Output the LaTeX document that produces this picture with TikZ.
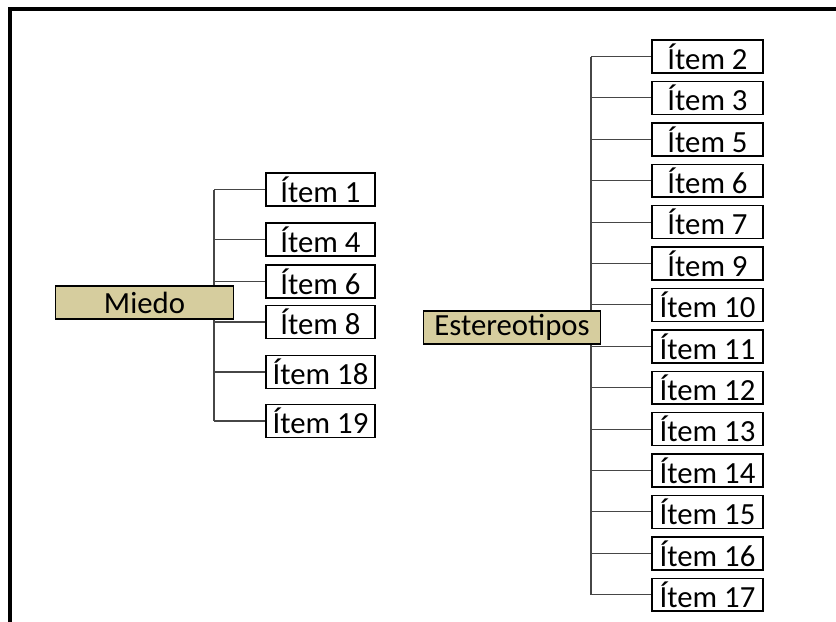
\documentclass[tikz,border=0pt]{standalone}
\usepackage{fontspec}
\setmainfont{Carlito}
\usetikzlibrary{calc}
\definecolor{factorKhaki}{RGB}{214,205,158}
\definecolor{branchGray}{RGB}{70,70,70}

\begin{document}
\begin{tikzpicture}[x=0.02cm,y=-0.02cm,
  itembox/.style={draw=black,line width=0.8pt,fill=white,minimum width=2.2cm,minimum height=0.66cm,inner sep=0pt,font=\fontsize{17.5}{19}\selectfont},
  factorbox/.style={itembox,fill=factorKhaki,minimum width=3.55cm},
  branch/.style={draw=branchGray,line width=0.6pt}]
\useasboundingbox (0,0) rectangle (836,622);
\draw[line width=1.8pt] (10,622) -- (10,9) -- (836,9);

% left factor
\node[factorbox] (miedo) at (144.5,302.5) {Miedo};
\foreach \n/\y in {1/189.5,4/239.5,6/281.5,8/322,18/372,19/421}
  \node[itembox,minimum width=2.18cm] (m\n) at (320.5,\y) {Ítem \n};
\coordinate (mtrunk) at (214,0);
\draw[branch] (mtrunk |- m1.west) -- (mtrunk |- miedo.north);
\draw[branch] (mtrunk |- miedo.south) -- (mtrunk |- m19.west);
\foreach \n in {1,4,6,8,18,19}
  \draw[branch] (mtrunk |- m\n.west) -- (m\n.west);

% right factor
\node[factorbox] (estereo) at (512,327.5) {Estereotipos};
\foreach \n [count=\i from 0] in {2,3,5,6,7,9,10,11,12,13,14,15,16,17}
  \node[itembox,minimum width=2.22cm] (e\n) at (707.5,{56.5+41.4*\i}) {Ítem \n};
\coordinate (etrunk) at (591,0);
\draw[branch] (etrunk |- e2.west) -- (etrunk |- estereo.north);
\draw[branch] (etrunk |- estereo.south) -- (etrunk |- e17.west);
\foreach \n in {2,3,5,6,7,9,10,11,12,13,14,15,16,17}
  \draw[branch] (etrunk |- e\n.west) -- (e\n.west);
\end{tikzpicture}
\end{document}
